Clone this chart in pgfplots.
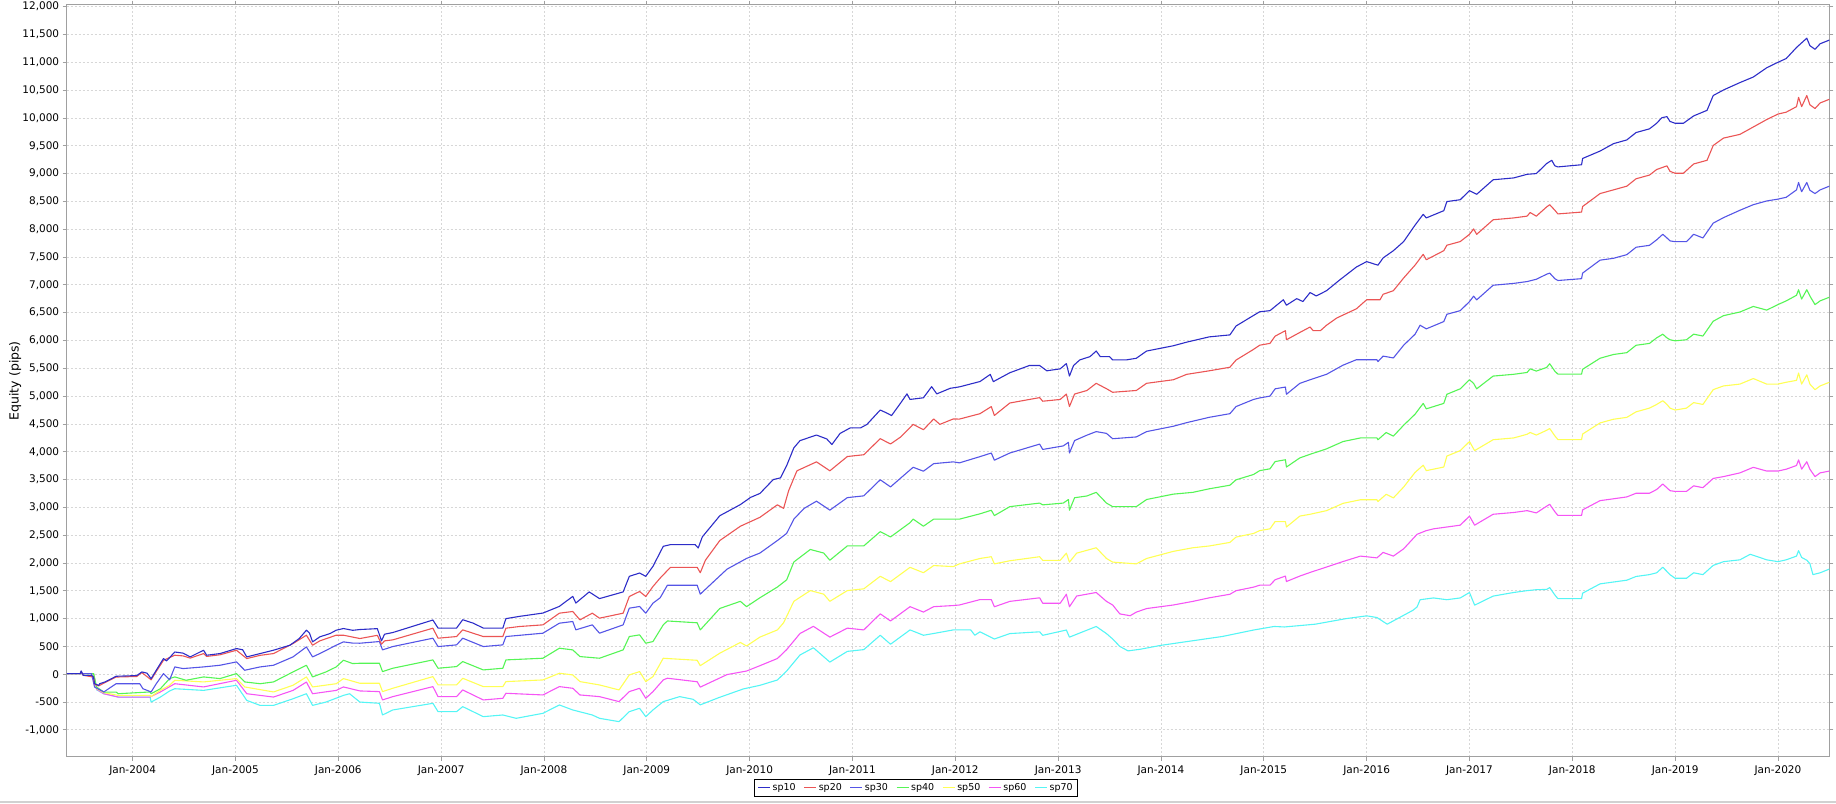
\documentclass[border=0pt]{standalone}
\usepackage{pgfplots}
\pgfplotsset{compat=1.18}
\usepackage{fontspec}
\setmainfont{DejaVu Sans}
\definecolor{c10}{RGB}{45,45,200}
\definecolor{c20}{RGB}{235,85,85}
\definecolor{c30}{RGB}{85,85,230}
\definecolor{c40}{RGB}{85,245,85}
\definecolor{c50}{RGB}{255,255,85}
\definecolor{c60}{RGB}{245,85,245}
\definecolor{c70}{RGB}{85,245,245}
\definecolor{gridc}{RGB}{215,215,215}
\definecolor{axc}{RGB}{160,160,160}

\pgfplotstableread{
x y
2003.36 12
2003.49 12
2003.50 60
2003.52 -20
2003.60 -20
2003.62 -50
2003.63 -170
2003.67 -200
2003.68 -170
2003.73 -140
2003.84 -36
2004.04 -24
2004.09 42
2004.14 20
2004.18 -80
2004.23 72
2004.30 282
2004.33 240
2004.41 400
2004.49 380
2004.56 312
2004.69 432
2004.72 342
2004.85 372
2005.01 462
2005.07 440
2005.11 312
2005.24 372
2005.37 432
2005.53 522
2005.62 642
2005.69 792
2005.72 740
2005.75 582
2005.82 672
2005.92 732
2005.98 792
2006.05 822
2006.14 790
2006.21 804
2006.38 820
2006.42 600
2006.45 720
2006.53 750
2006.92 975
2006.97 830
2007.15 830
2007.21 980
2007.31 920
2007.41 830
2007.60 830
2007.63 1000
2007.76 1040
2007.99 1100
2008.15 1220
2008.28 1400
2008.31 1280
2008.44 1480
2008.54 1360
2008.77 1480
2008.83 1760
2008.93 1820
2008.99 1760
2009.06 1940
2009.16 2300
2009.23 2330
2009.47 2330
2009.50 2270
2009.54 2470
2009.71 2850
2009.78 2920
2009.91 3050
2010.01 3180
2010.10 3250
2010.23 3500
2010.30 3530
2010.36 3750
2010.43 4070
2010.49 4200
2010.65 4300
2010.75 4230
2010.80 4130
2010.88 4330
2010.98 4430
2011.08 4430
2011.14 4490
2011.27 4750
2011.34 4690
2011.38 4650
2011.47 4880
2011.53 5040
2011.56 4940
2011.69 4970
2011.77 5170
2011.82 5040
2011.95 5140
2012.04 5166
2012.24 5262
2012.34 5390
2012.37 5260
2012.53 5420
2012.72 5550
2012.82 5550
2012.89 5455
2013.02 5490
2013.08 5585
2013.11 5360
2013.15 5550
2013.21 5650
2013.31 5710
2013.37 5810
2013.41 5710
2013.50 5710
2013.53 5650
2013.66 5650
2013.76 5680
2013.86 5810
2014.12 5905
2014.25 5970
2014.47 6065
2014.67 6100
2014.73 6260
2014.90 6450
2014.96 6516
2015.06 6536
2015.19 6732
2015.22 6634
2015.32 6752
2015.38 6700
2015.45 6862
2015.51 6800
2015.61 6895
2015.74 7091
2015.90 7320
2016.00 7418
2016.11 7353
2016.16 7484
2016.26 7614
2016.36 7778
2016.47 8072
2016.55 8268
2016.58 8203
2016.75 8333
2016.78 8497
2016.91 8530
2017.00 8693
2017.07 8628
2017.23 8889
2017.43 8922
2017.56 8987
2017.65 9000
2017.75 9180
2017.80 9239
2017.83 9139
2017.86 9120
2018.09 9159
2018.10 9272
2018.27 9405
2018.40 9538
2018.53 9605
2018.62 9738
2018.75 9804
2018.82 9904
2018.87 10004
2018.92 10024
2018.95 9937
2019.00 9904
2019.08 9904
2019.18 10037
2019.31 10137
2019.37 10403
2019.47 10503
2019.63 10636
2019.76 10736
2019.89 10902
2020.00 11001
2020.08 11068
2020.18 11267
2020.28 11434
2020.31 11300
2020.36 11234
2020.41 11334
2020.50 11400
}\sptenT

\pgfplotstableread{
x y
2003.36 12
2003.49 12
2003.50 50
2003.52 -20
2003.62 -50
2003.63 -180
2003.67 -210
2003.73 -150
2003.84 -50
2004.04 -40
2004.09 30
2004.18 -100
2004.23 50
2004.30 250
2004.41 342
2004.49 330
2004.56 290
2004.69 372
2004.72 320
2004.85 350
2005.01 432
2005.11 282
2005.24 340
2005.37 372
2005.56 552
2005.69 702
2005.75 522
2005.82 600
2005.98 702
2006.05 702
2006.21 642
2006.38 700
2006.42 540
2006.45 600
2006.53 618
2006.92 828
2006.97 648
2007.15 678
2007.21 798
2007.41 678
2007.60 678
2007.63 828
2007.76 858
2007.99 888
2008.15 1098
2008.28 1128
2008.35 978
2008.47 1098
2008.54 1008
2008.77 1098
2008.83 1398
2008.93 1488
2008.99 1398
2009.06 1578
2009.13 1729
2009.23 1922
2009.49 1922
2009.52 1825
2009.57 2050
2009.71 2404
2009.91 2661
2010.10 2821
2010.27 3046
2010.33 2982
2010.38 3303
2010.46 3657
2010.65 3818
2010.78 3657
2010.95 3914
2011.11 3946
2011.27 4235
2011.37 4139
2011.47 4267
2011.59 4492
2011.69 4396
2011.79 4589
2011.85 4492
2011.98 4589
2012.04 4587
2012.24 4684
2012.35 4812
2012.38 4652
2012.53 4876
2012.82 4973
2012.85 4908
2013.02 4940
2013.08 5037
2013.11 4812
2013.16 5037
2013.28 5101
2013.37 5230
2013.47 5133
2013.53 5069
2013.76 5101
2013.86 5230
2014.12 5294
2014.25 5391
2014.47 5455
2014.67 5519
2014.73 5648
2014.90 5840
2014.96 5915
2015.06 5948
2015.11 6078
2015.21 6176
2015.22 6013
2015.35 6144
2015.45 6242
2015.48 6176
2015.55 6176
2015.61 6274
2015.71 6405
2015.90 6569
2016.00 6732
2016.13 6732
2016.16 6830
2016.26 6895
2016.36 7124
2016.47 7353
2016.55 7549
2016.58 7451
2016.75 7614
2016.78 7712
2016.91 7778
2017.00 7908
2017.04 8006
2017.07 7908
2017.23 8170
2017.43 8203
2017.56 8235
2017.59 8300
2017.65 8235
2017.75 8400
2017.78 8441
2017.83 8341
2017.86 8275
2018.09 8308
2018.10 8408
2018.27 8641
2018.40 8707
2018.53 8774
2018.62 8907
2018.75 8973
2018.82 9073
2018.87 9106
2018.92 9139
2018.95 9040
2019.00 9006
2019.08 9006
2019.18 9173
2019.31 9239
2019.37 9505
2019.47 9638
2019.63 9705
2019.76 9838
2019.89 9971
2020.00 10070
2020.08 10104
2020.18 10203
2020.20 10370
2020.23 10203
2020.28 10403
2020.31 10237
2020.36 10170
2020.41 10270
2020.50 10336
}\sptwentyT

\pgfplotstableread{
x y
2003.36 12
2003.60 12
2003.63 -230
2003.72 -318
2003.84 -170
2004.07 -170
2004.10 -260
2004.18 -318
2004.23 -170
2004.30 12
2004.36 -100
2004.41 132
2004.49 102
2004.69 132
2004.85 162
2005.01 222
2005.09 72
2005.24 132
2005.37 162
2005.56 312
2005.69 492
2005.75 312
2005.82 372
2005.98 522
2006.05 582
2006.14 560
2006.21 558
2006.40 588
2006.43 438
2006.53 498
2006.92 648
2006.97 498
2007.15 528
2007.21 648
2007.41 498
2007.60 528
2007.63 678
2007.99 738
2008.15 918
2008.28 948
2008.31 798
2008.47 888
2008.54 738
2008.77 888
2008.83 1188
2008.93 1218
2008.99 1098
2009.06 1278
2009.13 1375
2009.20 1600
2009.49 1600
2009.52 1440
2009.65 1665
2009.78 1889
2009.97 2082
2010.10 2179
2010.27 2404
2010.36 2532
2010.43 2789
2010.53 2982
2010.65 3111
2010.78 2950
2010.95 3175
2011.11 3207
2011.27 3496
2011.37 3368
2011.53 3625
2011.59 3721
2011.69 3650
2011.79 3786
2011.98 3818
2012.04 3800
2012.24 3912
2012.35 3977
2012.38 3848
2012.53 3977
2012.82 4137
2012.85 4041
2013.05 4105
2013.10 4169
2013.11 3977
2013.16 4201
2013.28 4298
2013.37 4362
2013.47 4330
2013.53 4234
2013.76 4266
2013.86 4362
2014.12 4458
2014.25 4523
2014.47 4619
2014.67 4684
2014.73 4812
2014.90 4940
2014.96 4967
2015.06 5000
2015.11 5131
2015.21 5163
2015.22 5033
2015.35 5229
2015.45 5294
2015.61 5392
2015.77 5556
2015.90 5654
2016.10 5654
2016.11 5621
2016.16 5719
2016.26 5686
2016.36 5915
2016.47 6111
2016.52 6274
2016.58 6209
2016.75 6340
2016.78 6471
2016.91 6536
2017.00 6699
2017.04 6797
2017.07 6730
2017.23 6993
2017.43 7026
2017.56 7059
2017.65 7100
2017.75 7191
2017.78 7211
2017.83 7111
2017.86 7078
2018.09 7111
2018.10 7211
2018.27 7444
2018.40 7477
2018.53 7543
2018.62 7676
2018.75 7710
2018.82 7809
2018.88 7909
2018.92 7843
2018.95 7790
2019.00 7776
2019.11 7776
2019.18 7909
2019.27 7843
2019.37 8109
2019.47 8208
2019.63 8341
2019.76 8441
2019.89 8508
2020.00 8541
2020.08 8574
2020.18 8707
2020.20 8840
2020.23 8674
2020.28 8840
2020.31 8700
2020.36 8641
2020.41 8707
2020.50 8774
}\spthirtyT

\pgfplotstableread{
x y
2003.36 12
2003.62 12
2003.65 -230
2003.72 -320
2003.84 -320
2003.86 -350
2004.17 -318
2004.18 -350
2004.27 -260
2004.36 -78
2004.41 -48
2004.52 -108
2004.69 -48
2004.85 -78
2005.01 12
2005.09 -138
2005.24 -170
2005.37 -138
2005.56 42
2005.69 162
2005.75 -48
2005.88 42
2005.98 132
2006.05 252
2006.14 192
2006.21 198
2006.40 198
2006.43 48
2006.53 108
2006.92 258
2006.97 108
2007.15 138
2007.21 228
2007.41 78
2007.60 108
2007.63 258
2007.99 288
2008.15 468
2008.28 438
2008.35 318
2008.54 288
2008.77 438
2008.83 678
2008.93 708
2008.99 558
2009.06 588
2009.16 888
2009.20 958
2009.49 925
2009.52 797
2009.71 1183
2009.91 1311
2009.97 1215
2010.10 1375
2010.27 1568
2010.36 1697
2010.43 2018
2010.59 2243
2010.72 2179
2010.78 2050
2010.95 2307
2011.11 2307
2011.27 2564
2011.37 2468
2011.56 2725
2011.59 2789
2011.69 2661
2011.79 2789
2011.98 2789
2012.04 2788
2012.24 2884
2012.35 2948
2012.38 2852
2012.53 3013
2012.82 3077
2012.85 3045
2013.05 3077
2013.10 3141
2013.11 2948
2013.16 3173
2013.28 3205
2013.37 3270
2013.47 3077
2013.53 3013
2013.76 3013
2013.86 3141
2014.12 3238
2014.31 3270
2014.47 3334
2014.67 3398
2014.73 3495
2014.90 3591
2014.96 3660
2015.06 3693
2015.11 3823
2015.21 3856
2015.22 3725
2015.35 3889
2015.45 3954
2015.61 4052
2015.77 4183
2015.94 4248
2016.10 4248
2016.11 4216
2016.19 4346
2016.26 4281
2016.36 4477
2016.47 4673
2016.55 4869
2016.58 4771
2016.75 4869
2016.78 5033
2016.91 5131
2017.00 5294
2017.04 5229
2017.07 5131
2017.23 5360
2017.43 5392
2017.56 5425
2017.59 5490
2017.65 5450
2017.75 5515
2017.78 5582
2017.83 5448
2017.86 5395
2018.09 5395
2018.10 5482
2018.27 5681
2018.40 5748
2018.53 5781
2018.62 5914
2018.75 5947
2018.82 6047
2018.88 6113
2018.92 6047
2018.95 6013
2019.00 5994
2019.11 6013
2019.18 6113
2019.27 6080
2019.37 6346
2019.47 6446
2019.63 6512
2019.76 6612
2019.89 6546
2020.00 6645
2020.08 6712
2020.18 6812
2020.20 6912
2020.23 6745
2020.28 6912
2020.31 6800
2020.36 6645
2020.41 6712
2020.50 6778
}\spfortyT

\pgfplotstableread{
x y
2003.36 12
2003.62 12
2003.65 -260
2003.72 -330
2003.86 -380
2004.17 -380
2004.18 -400
2004.27 -288
2004.36 -198
2004.41 -108
2004.69 -138
2005.01 -78
2005.09 -228
2005.37 -318
2005.56 -198
2005.69 -48
2005.75 -228
2005.98 -170
2006.05 -78
2006.21 -162
2006.40 -162
2006.43 -312
2006.53 -252
2006.92 -42
2006.97 -192
2007.15 -192
2007.21 -72
2007.41 -222
2007.60 -222
2007.63 -132
2007.99 -102
2008.15 18
2008.28 -12
2008.35 -132
2008.54 -192
2008.73 -282
2008.83 -12
2008.93 48
2008.99 -132
2009.06 -42
2009.16 288
2009.20 283
2009.49 251
2009.52 154
2009.71 379
2009.91 572
2009.97 508
2010.10 668
2010.27 797
2010.33 925
2010.43 1311
2010.59 1504
2010.72 1440
2010.78 1311
2010.95 1504
2011.11 1536
2011.27 1761
2011.37 1665
2011.56 1922
2011.69 1825
2011.79 1954
2011.98 1935
2012.04 1984
2012.24 2081
2012.35 2113
2012.38 1984
2012.53 2040
2012.82 2113
2012.85 2048
2013.02 2048
2013.08 2177
2013.11 2016
2013.18 2177
2013.37 2274
2013.47 2081
2013.53 2016
2013.76 1984
2013.86 2081
2014.12 2209
2014.31 2274
2014.47 2306
2014.67 2370
2014.73 2466
2014.90 2531
2014.96 2582
2015.06 2614
2015.11 2745
2015.21 2745
2015.22 2647
2015.35 2843
2015.45 2876
2015.61 2941
2015.77 3072
2015.94 3137
2016.10 3137
2016.11 3105
2016.19 3235
2016.26 3170
2016.36 3366
2016.47 3627
2016.55 3758
2016.58 3660
2016.75 3725
2016.78 3922
2016.91 4020
2017.00 4183
2017.05 4020
2017.23 4216
2017.43 4248
2017.56 4314
2017.59 4346
2017.65 4300
2017.75 4385
2017.78 4418
2017.83 4285
2017.86 4218
2018.09 4218
2018.10 4318
2018.27 4518
2018.40 4584
2018.53 4618
2018.62 4717
2018.75 4784
2018.82 4850
2018.88 4917
2018.92 4850
2018.95 4784
2019.00 4750
2019.11 4784
2019.18 4883
2019.27 4850
2019.37 5116
2019.47 5183
2019.63 5216
2019.76 5316
2019.89 5216
2020.00 5216
2020.08 5249
2020.18 5283
2020.20 5415
2020.23 5216
2020.28 5382
2020.31 5216
2020.36 5116
2020.41 5183
2020.50 5249
}\spfiftyT

\pgfplotstableread{
x y
2003.36 12
2003.62 12
2003.65 -270
2003.72 -350
2003.86 -410
2004.17 -410
2004.27 -318
2004.41 -170
2004.69 -228
2005.01 -108
2005.11 -350
2005.37 -410
2005.56 -290
2005.69 -140
2005.75 -350
2005.98 -290
2006.05 -228
2006.21 -300
2006.40 -312
2006.43 -462
2006.53 -402
2006.92 -222
2006.97 -402
2007.15 -402
2007.21 -282
2007.41 -462
2007.60 -432
2007.63 -342
2007.99 -372
2008.15 -222
2008.28 -252
2008.35 -372
2008.54 -402
2008.73 -492
2008.83 -312
2008.93 -252
2008.99 -432
2009.06 -312
2009.16 -102
2009.20 -71
2009.49 -135
2009.52 -231
2009.78 -6
2009.97 58
2010.10 154
2010.27 283
2010.36 443
2010.49 733
2010.62 861
2010.78 668
2010.95 829
2011.11 797
2011.27 1086
2011.37 958
2011.56 1215
2011.69 1118
2011.79 1215
2011.98 1235
2012.04 1245
2012.24 1342
2012.35 1342
2012.38 1213
2012.53 1310
2012.82 1374
2012.85 1277
2013.02 1277
2013.08 1438
2013.11 1213
2013.18 1406
2013.37 1470
2013.47 1310
2013.53 1245
2013.60 1085
2013.70 1052
2013.76 1117
2013.86 1181
2014.12 1245
2014.31 1310
2014.47 1374
2014.67 1438
2014.73 1502
2014.90 1566
2014.96 1601
2015.06 1601
2015.11 1699
2015.21 1765
2015.22 1667
2015.35 1765
2015.45 1830
2015.61 1928
2015.77 2026
2015.94 2124
2016.10 2092
2016.16 2190
2016.26 2124
2016.36 2255
2016.49 2516
2016.58 2582
2016.65 2614
2016.78 2647
2016.91 2680
2017.00 2843
2017.05 2680
2017.23 2876
2017.43 2908
2017.56 2941
2017.65 2900
2017.75 3021
2017.78 3055
2017.83 2922
2017.86 2855
2018.09 2855
2018.10 2955
2018.27 3121
2018.40 3154
2018.53 3188
2018.62 3254
2018.75 3254
2018.82 3321
2018.88 3420
2018.95 3300
2019.00 3287
2019.11 3287
2019.18 3387
2019.27 3354
2019.37 3520
2019.47 3553
2019.63 3620
2019.76 3720
2019.89 3653
2020.00 3653
2020.08 3686
2020.18 3753
2020.20 3853
2020.23 3686
2020.28 3820
2020.31 3686
2020.36 3553
2020.41 3620
2020.50 3653
}\spsixtyT

\pgfplotstableread{
x y
2003.36 12
2003.62 12
2003.65 -280
2003.72 -350
2003.86 -410
2004.17 -410
2004.18 -500
2004.27 -410
2004.36 -300
2004.41 -260
2004.69 -290
2005.01 -198
2005.11 -470
2005.24 -560
2005.37 -560
2005.56 -440
2005.69 -350
2005.75 -560
2005.88 -500
2006.05 -380
2006.11 -350
2006.17 -440
2006.21 -500
2006.40 -522
2006.43 -732
2006.53 -642
2006.92 -522
2006.97 -672
2007.15 -672
2007.21 -582
2007.41 -762
2007.60 -732
2007.73 -792
2007.99 -702
2008.15 -552
2008.28 -642
2008.47 -732
2008.54 -792
2008.73 -852
2008.83 -672
2008.93 -612
2008.99 -762
2009.06 -642
2009.16 -492
2009.32 -402
2009.45 -450
2009.52 -550
2009.70 -420
2009.94 -263
2010.10 -199
2010.27 -103
2010.36 58
2010.49 347
2010.62 476
2010.78 219
2010.95 411
2011.11 443
2011.27 701
2011.37 540
2011.56 797
2011.69 701
2011.79 733
2011.98 797
2012.15 797
2012.19 701
2012.24 763
2012.38 634
2012.53 731
2012.82 763
2012.85 700
2013.08 795
2013.11 667
2013.37 859
2013.47 731
2013.53 634
2013.60 500
2013.68 420
2013.80 450
2014.00 520
2014.30 600
2014.60 680
2014.90 795
2015.10 859
2015.20 850
2015.50 900
2015.80 1000
2016.00 1050
2016.10 1020
2016.20 900
2016.30 1000
2016.45 1150
2016.49 1209
2016.52 1340
2016.65 1372
2016.78 1340
2016.91 1372
2017.00 1470
2017.05 1242
2017.23 1405
2017.43 1470
2017.56 1503
2017.65 1520
2017.75 1525
2017.78 1558
2017.83 1425
2017.86 1359
2018.09 1359
2018.10 1458
2018.27 1625
2018.40 1658
2018.53 1691
2018.62 1758
2018.75 1791
2018.82 1824
2018.88 1924
2018.95 1790
2019.00 1725
2019.11 1725
2019.18 1824
2019.27 1791
2019.37 1957
2019.47 2024
2019.63 2057
2019.73 2157
2019.89 2057
2020.00 2024
2020.08 2057
2020.18 2124
2020.20 2223
2020.23 2100
2020.28 2050
2020.31 1990
2020.34 1791
2020.41 1824
2020.50 1891
}\spseventyT

\begin{document}
\begin{tikzpicture}
\path[use as bounding box] (0,0) rectangle (1836pt,803pt);
\fill[black!18] (0,0) rectangle (1836pt,2.5pt);
\begin{axis}[
  at={(66.7pt,46.3pt)}, anchor=south west,
  width=1762.6pt, height=752pt, scale only axis,
  xmin=2003.359, xmax=2020.499, ymin=-1482, ymax=12036,
  xtick={2004,2005,2006,2007,2008,2009,2010,2011,2012,2013,2014,2015,2016,2017,2018,2019,2020},
  xticklabels={Jan-2004,Jan-2005,Jan-2006,Jan-2007,Jan-2008,Jan-2009,Jan-2010,Jan-2011,Jan-2012,Jan-2013,Jan-2014,Jan-2015,Jan-2016,Jan-2017,Jan-2018,Jan-2019,Jan-2020},
  ytick={-1000,-500,...,12000},
  scaled y ticks=false,
  yticklabel style={/pgf/number format/.cd, fixed, 1000 sep={,}, assume math mode=true},
  grid=major,
  major grid style={gridc, line width=0.8pt, dash pattern=on 2pt off 2pt},
  axis line style={axc, line width=1pt},
  tick align=outside, major tick length=4pt,
  tick style={axc, line width=0.8pt},
  tick label style={font=\fontsize{10.5}{12}\selectfont, black},
  xticklabel style={yshift=-1pt},
  every axis y label/.style={at={(axis description cs:-0.0293,0.5)}, rotate=90, anchor=center, font=\fontsize{12.5}{14}\selectfont},
  ylabel={Equity (pips)},
  legend columns=7,
  reverse legend,
  legend style={at={(axis description cs:0.4819,-0.0297)}, anchor=north, draw=black, line width=1pt,
    font=\fontsize{9.5}{10}\selectfont, inner xsep=3pt, inner ysep=2pt,
    /tikz/every even column/.append style={column sep=6pt}},
  legend image code/.code={\draw[#1, line width=1.1pt] (0pt,0pt) -- (12pt,0pt);},
  every axis plot/.append style={line width=1.1pt, line join=round},
]
\addplot[c70] table {\spseventyT}; \addlegendentry{sp70}
\addplot[c60] table {\spsixtyT}; \addlegendentry{sp60}
\addplot[c50] table {\spfiftyT}; \addlegendentry{sp50}
\addplot[c40] table {\spfortyT}; \addlegendentry{sp40}
\addplot[c30] table {\spthirtyT}; \addlegendentry{sp30}
\addplot[c20] table {\sptwentyT}; \addlegendentry{sp20}
\addplot[c10] table {\sptenT}; \addlegendentry{sp10}
\end{axis}
\end{tikzpicture}
\end{document}
